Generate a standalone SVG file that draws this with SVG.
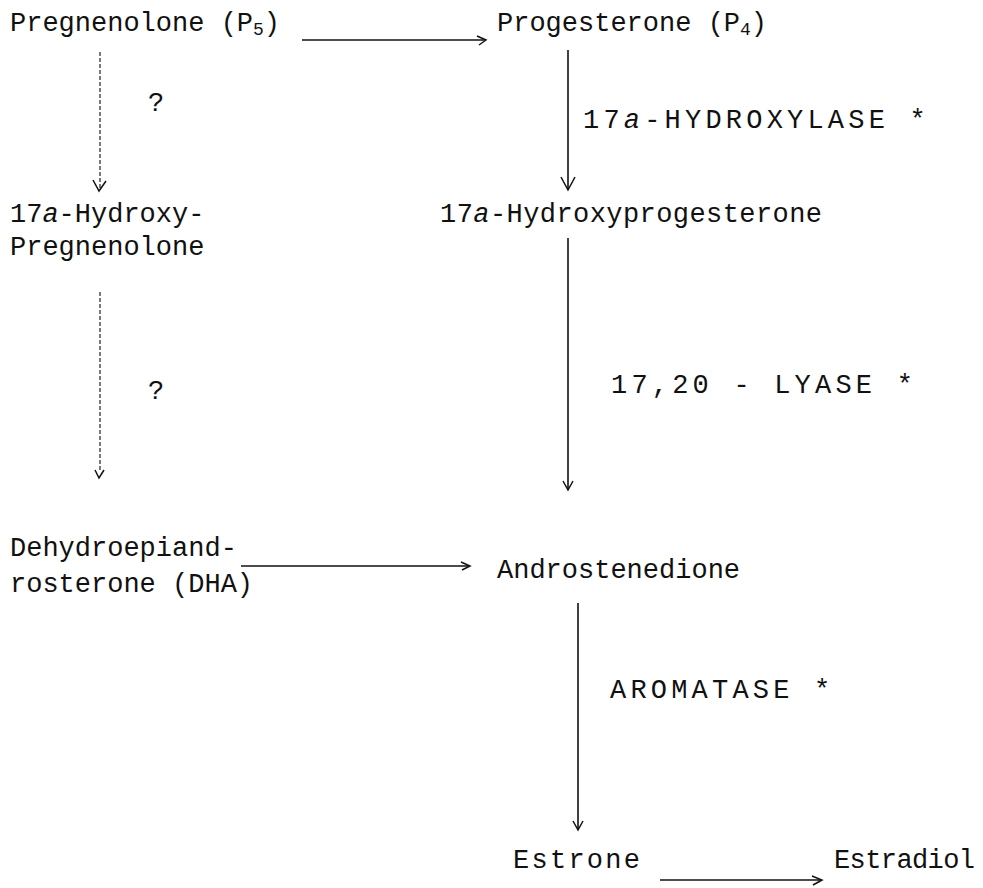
<svg xmlns="http://www.w3.org/2000/svg" width="983" height="888" viewBox="0 0 983 888">
<defs>
<style>
text{font-family:"Liberation Mono","DejaVu Sans Mono",monospace;font-size:27px;fill:#111;}
.enz{letter-spacing:4.2px;}
.sub{font-size:18px;}
.it{font-style:italic;}
.solid{stroke:#111;stroke-width:1.6;fill:none;}
.dot{stroke:#333;stroke-width:1.3;fill:none;stroke-dasharray:4 2;}
.head{stroke:#111;stroke-width:1.5;fill:none;}
</style>
</defs>
<rect width="983" height="888" fill="#fff"/>
<g id="connectors">
<line class="solid" x1="302" y1="40" x2="484" y2="40"/>
<path class="head" d="M477,36 L486,40 L479,45"/>
<line class="dot" x1="100" y1="52" x2="100" y2="188"/>
<path class="head" d="M93,180 L99,191 L106,181"/>
<line class="dot" x1="100" y1="292" x2="100" y2="472"/>
<path class="head" d="M95,470 L99,478 L104,470"/>
<line class="solid" x1="241" y1="566" x2="468" y2="566"/>
<path class="head" d="M461,562 L470,566 L462,570"/>
<line class="solid" x1="568" y1="50" x2="568" y2="190"/>
<path class="head" d="M561,177 L568,190 L575,177"/>
<line class="solid" x1="568" y1="238" x2="568" y2="489"/>
<path class="head" d="M563,481 L568,490 L573,481"/>
<line class="solid" x1="578" y1="603" x2="578" y2="829"/>
<path class="head" d="M573,821 L578,830 L583,821"/>
<line class="solid" x1="660" y1="880" x2="820" y2="880"/>
<path class="head" d="M812,876 L822,880 L813,885"/>
</g>
<g id="pregnenolone"><text x="10" y="31">Pregnenolone (P<tspan class="sub" dy="4">5</tspan><tspan dy="-4">)</tspan></text></g>
<g id="progesterone"><text x="497" y="31">Progesterone (P<tspan class="sub" dy="4">4</tspan><tspan dy="-4">)</tspan></text></g>
<g id="q1"><text x="148" y="111">?</text></g>
<g id="hydroxylase"><text class="enz" x="583" y="128">17<tspan class="it">a</tspan>-HYDROXYLASE *</text></g>
<g id="hydroxypregnenolone"><text x="10" y="222">17<tspan class="it">a</tspan>-Hydroxy-</text><text x="10" y="255">Pregnenolone</text></g>
<g id="hydroxyprogesterone"><text x="440" y="222" textLength="382" lengthAdjust="spacing">17<tspan class="it">a</tspan>-Hydroxyprogesterone</text></g>
<g id="lyase"><text class="enz" x="611" y="393">17,20 - LYASE *</text></g>
<g id="q2"><text x="148" y="399">?</text></g>
<g id="dha"><text x="10" y="556">Dehydroepiand-</text><text x="10" y="592">rosterone (DHA)</text></g>
<g id="androstenedione"><text x="497" y="578">Androstenedione</text></g>
<g id="aromatase"><text class="enz" x="610" y="698">AROMATASE *</text></g>
<g id="estrone"><text x="513" y="868" textLength="127" lengthAdjust="spacing">Estrone</text></g>
<g id="estradiol"><text x="834" y="868" textLength="141" lengthAdjust="spacing">Estradiol</text></g>
</svg>
